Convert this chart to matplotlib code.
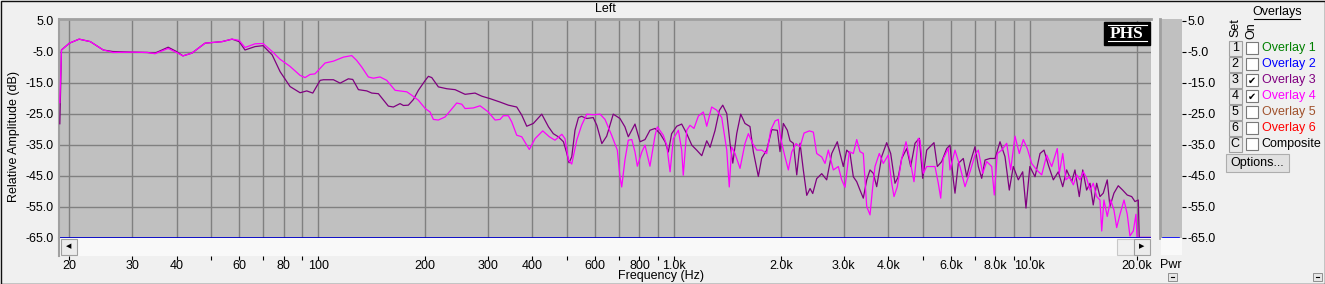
import matplotlib
matplotlib.use("Agg")
import matplotlib.pyplot as plt
import matplotlib.patches as ptc
from matplotlib.ticker import NullLocator

plt.rcParams['font.family'] = ['Liberation Sans', 'DejaVu Sans']
plt.rcParams['font.size'] = 9

# ---- data ----
# Overlay 3 (purple)
ov3_freq = [18.8, 19.0, 20, 21.3, 22.9, 24.9, 26.5, 30, 33.1, 34.8,
            37.9, 40, 41.7, 44.2, 48.1, 51.3, 53.7, 57.3, 60, 62.3,
            66.5, 70, 74.3, 78.2, 83.4, 89.0, 92.9, 96.6, 101.3, 103.5,
            110.4, 115.3, 121.6, 125.1, 129.8, 137.0, 141.5, 147.7, 157.5, 162.7,
            169.9, 173.6, 179.3, 185.2, 191.3, 200, 204.1, 208.6, 217.7, 229.9,
            242.6, 258.8, 276.0, 288.3, 304.2, 324.5, 342.4, 361.5, 373.4, 385.7,
            402.5, 425, 444, 458, 473, 489, 500, 507, 516, 527,
            539, 550, 569, 593, 607, 627, 647, 675, 705, 728,
            744, 761, 777, 803, 829, 856, 885, 914, 944, 964,
            985, 1018, 1051, 1086, 1122, 1158, 1197, 1236, 1263, 1304,
            1341, 1371, 1407, 1437, 1463, 1501, 1540, 1583, 1635, 1671,
            1726, 1764, 1822, 1883, 1952, 1986, 2029, 2082, 2119, 2165,
            2213, 2261, 2309, 2361, 2412, 2454, 2518, 2601, 2686, 2775,
            2877, 2928, 2991, 3058, 3124, 3191, 3262, 3332, 3404, 3480,
            3555, 3632, 3712, 3834, 3960, 4064, 4179, 4269, 4364, 4508,
            4626, 4757, 4891, 5000, 5130, 5241, 5378, 5495, 5653, 5839,
            5965, 6094, 6161, 6295, 6501, 6646, 6789, 7012, 7164, 7323,
            7482, 7726, 7985, 8244, 8514, 8754, 8984, 9280, 9548, 9753,
            10000, 10340, 10680, 10960, 11270, 11640, 12020, 12370, 12690, 13110,
            13390, 13770, 14080, 14440, 14760, 15070, 15410, 15740, 16080, 16500,
            16790, 17230, 17720, 18230, 18780, 19330, 19740, 20170, 20300, 21900]
ov3_db = [-28.3, -4.5, -2.3, -1.0, -1.8, -4.5, -5.0, -5.2, -5.3, -5.5,
          -3.6, -5.0, -6.4, -5.5, -2.3, -2.0, -1.8, -1.0, -1.8, -4.5,
          -3.4, -3.1, -6.1, -11.5, -16.3, -18.3, -17.7, -18.4, -14.3, -14.1,
          -14.1, -15.2, -13.8, -14.0, -17.3, -17.7, -18.4, -18.6, -22.6, -22.9,
          -21.8, -22.4, -22.3, -20.5, -17.5, -14.3, -13.0, -13.4, -16.4, -17.0,
          -17.3, -18.8, -18.4, -19.4, -20.2, -21.3, -22.3, -22.9, -25.5, -29.1,
          -28.2, -25.2, -29.3, -31.5, -32.5, -34.1, -37.9, -40.9, -39.0, -30.4,
          -26.3, -25.9, -26.6, -26.3, -28.8, -34.7, -32.3, -25.2, -26.6, -29.3,
          -32.5, -30.4, -28.4, -34.1, -33.4, -30.4, -29.8, -31.5, -34.1, -37.4,
          -31.5, -29.1, -28.4, -31.5, -35.2, -36.8, -38.6, -33.8, -35.9, -30.5,
          -24.0, -22.3, -25.0, -34.6, -41.0, -31.4, -25.2, -28.2, -29.2, -37.3,
          -45.3, -39.4, -36.8, -30.2, -30.4, -37.3, -28.2, -30.4, -33.8, -34.6,
          -44.8, -34.6, -43.2, -51.4, -49.2, -50.8, -46.0, -44.4, -46.4, -37.9,
          -34.1, -37.9, -42.1, -36.8, -37.9, -45.4, -47.0, -49.7, -52.3, -46.4,
          -43.2, -44.3, -48.6, -38.9, -34.4, -37.9, -47.5, -45.4, -39.5, -36.3,
          -42.1, -34.6, -33.0, -45.9, -36.8, -35.7, -34.4, -42.1, -40.5, -36.3,
          -35.2, -46.4, -50.7, -41.1, -39.5, -45.4, -41.1, -35.7, -42.1, -45.9,
          -40.0, -39.5, -39.5, -34.1, -38.9, -49.7, -42.1, -46.4, -43.8, -55.5,
          -42.1, -45.4, -37.9, -36.8, -41.6, -46.4, -43.8, -48.6, -43.2, -47.0,
          -43.2, -51.8, -43.2, -49.7, -47.5, -54.5, -47.5, -51.8, -50.7, -46.4,
          -55.0, -50.7, -48.3, -49.7, -51.3, -51.8, -53.4, -52.9, -65, -65]

# Overlay 4 (magenta)
ov4_freq = [18.8, 19.0, 20, 21.3, 22.9, 24.9, 26.5, 30, 33.1, 34.8,
            37.9, 40, 41.7, 44.2, 48.1, 51.3, 53.7, 57.3, 60, 62.3,
            66.5, 70, 74.3, 78.2, 83.4, 89.0, 91.9, 94.9, 98.0, 104.6,
            110.4, 117.8, 124.3, 128.4, 132.6, 138.4, 143.0, 149.3, 155.9, 164.5,
            177.5, 183.3, 191.3, 200, 206.3, 210.8, 217.7, 227.4, 245.2, 253.3,
            258.8, 273.0, 285.1, 300.8, 314.2, 324.5, 331.5, 342.4, 350.0, 361.5,
            373.4, 392.2, 407.0, 427.7, 446.4, 463, 484, 494, 505, 516,
            533, 550, 569, 593, 620, 640, 668, 693, 705, 713,
            728, 744, 761, 777, 789, 812, 829, 856, 885, 898,
            933, 954, 975, 996, 1029, 1051, 1062, 1086, 1109, 1138,
            1171, 1209, 1236, 1276, 1318, 1362, 1407, 1430, 1453, 1484,
            1533, 1583, 1618, 1664, 1708, 1764, 1822, 1870, 1923, 1964,
            1995, 2051, 2096, 2142, 2203, 2261, 2320, 2401, 2464, 2518,
            2601, 2657, 2715, 2804, 2896, 2960, 3024, 3109, 3191, 3262,
            3332, 3404, 3480, 3555, 3618, 3672, 3775, 3874, 4000, 4091,
            4152, 4242, 4364, 4487, 4605, 4725, 4859, 4913, 5019, 5130,
            5300, 5413, 5530, 5617, 5712, 5900, 5965, 6161, 6364, 6573,
            6789, 7012, 7164, 7370, 7564, 7812, 7945, 8101, 8334, 8609,
            8834, 9084, 9340, 9585, 9835, 10120, 10450, 10800, 11150, 11520,
            11940, 12100, 12370, 12630, 12910, 13250, 13540, 13830, 14130, 14440,
            14760, 15070, 15410, 15740, 15920, 16150, 16500, 16870, 17230, 17540,
            17920, 18390, 18780, 19110, 19530, 19870, 20000, 21900]
ov4_db = [-21.5, -4.5, -2.3, -1.0, -1.8, -4.5, -5.3, -5.2, -5.3, -5.7,
          -4.0, -5.3, -6.4, -5.5, -2.3, -2.0, -1.8, -1.0, -1.4, -3.7,
          -2.5, -2.4, -5.0, -7.5, -9.8, -12.7, -13.4, -12.4, -12.2, -8.7,
          -8.1, -6.8, -6.3, -7.9, -10.0, -13.2, -13.6, -13.2, -14.3, -17.5,
          -18.0, -19.1, -20.7, -23.4, -24.5, -26.9, -27.1, -26.1, -21.6, -22.0,
          -23.4, -23.2, -22.5, -24.5, -27.1, -26.9, -25.7, -25.7, -27.7, -32.0,
          -32.5, -36.6, -33.1, -30.6, -32.5, -33.6, -31.7, -33.1, -40.0, -41.3,
          -33.6, -28.8, -25.2, -25.4, -25.2, -26.9, -32.0, -36.8, -45.4, -48.7,
          -40.0, -33.6, -33.4, -37.4, -42.0, -37.4, -35.2, -42.0, -32.0, -29.3,
          -32.0, -35.2, -43.8, -33.1, -30.4, -36.8, -44.9, -30.4, -28.8, -29.8,
          -25.8, -24.5, -29.1, -22.9, -23.9, -26.3, -36.8, -48.7, -35.8, -37.9,
          -42.7, -34.7, -31.5, -34.7, -36.8, -36.8, -37.9, -30.4, -27.4, -26.9,
          -33.1, -39.0, -43.2, -37.4, -34.7, -35.8, -31.3, -30.6, -31.0, -37.9,
          -39.0, -41.1, -36.8, -43.2, -42.1, -46.4, -48.8, -37.3, -37.9, -33.4,
          -37.3, -37.9, -55.0, -57.7, -48.6, -42.1, -37.9, -41.1, -38.4, -47.5,
          -51.8, -48.6, -39.5, -34.1, -40.0, -47.0, -33.0, -33.6, -44.3, -42.1,
          -42.1, -42.1, -47.5, -52.3, -39.5, -36.3, -43.2, -36.8, -42.1, -48.6,
          -43.8, -38.4, -36.8, -44.3, -40.5, -42.1, -51.3, -37.9, -36.8, -34.6,
          -43.2, -32.3, -37.9, -33.4, -36.3, -41.1, -43.2, -44.8, -38.4, -42.1,
          -36.3, -44.3, -37.9, -46.4, -45.4, -48.0, -44.8, -46.4, -43.8, -45.9,
          -49.7, -47.5, -51.8, -52.9, -62.9, -52.9, -58.2, -52.9, -56.1, -61.8,
          -57.5, -52.9, -57.5, -64.5, -62.9, -57.5, -65, -65]

y_ticks = [5, -5, -15, -25, -35, -45, -55, -65]
grid_freqs = [20, 30, 40, 50, 60, 70, 80, 90, 100, 200, 300, 400, 500, 600, 700, 800, 900,
              1000, 2000, 3000, 4000, 5000, 6000, 7000, 8000, 9000, 10000, 20000]
freq_labels = ['20', '30', '40', '', '60', '', '80', '', '100', '200', '300', '400', '', '600', '',
               '800', '', '1.0k', '2.0k', '3.0k', '4.0k', '', '6.0k', '', '8.0k', '', '10.0k', '20.0k']
overlay_names = ['Overlay 1', 'Overlay 2', 'Overlay 3', 'Overlay 4', 'Overlay 5', 'Overlay 6', 'Composite']
overlay_keys = ['1', '2', '3', '4', '5', '6', 'C']
overlay_colors = ['#008000', '#0000ff', '#800080', '#ff00ff', '#a0522d', '#ff0000', '#000000']
overlay_on = [False, False, True, True, False, False, False]

W, H = 1325, 284
fig = plt.figure(figsize=(W / 100, H / 100), dpi=100, facecolor='#f0f0f0')


def rect(x0, y0, x1, y1):
    # pixel box (top-left origin) -> figure fraction
    return [x0 / W, 1 - y1 / H, (x1 - x0) / W, (y1 - y0) / H]


y_labels = ['%.1f' % v for v in y_ticks]
xlim = (18.7, 21900)
ylim = (-65, 5.5)

# main plot
ax = fig.add_axes(rect(59, 19, 1151, 237.5))
ax.set_facecolor('#c0c0c0')
ax.set_xscale('log')
ax.set_xlim(*xlim)
ax.set_ylim(*ylim)
for f in grid_freqs:
    ax.axvline(f, color='#808080', lw=1.0, zorder=1)
for v in y_ticks[1:-1]:
    ax.axhline(v, color='#808080', lw=1.0, zorder=1)
ax.plot(ov3_freq, ov3_db, color='#800080', lw=0.9, zorder=3)
ax.plot(ov4_freq, ov4_db, color='#ff00ff', lw=0.9, zorder=4)
ax.axhline(-65, color='#0000c8', lw=1.3, zorder=5)
ax.set_xticks([])
ax.xaxis.set_minor_locator(NullLocator())
ax.set_yticks(y_ticks)
ax.set_yticklabels(y_labels)
ax.tick_params(axis='y', length=0, pad=4)
for s in ['right', 'bottom']:
    ax.spines[s].set_visible(False)
ax.spines['top'].set_color('#a0a0a0')
ax.spines['top'].set_linewidth(2)
ax.spines['left'].set_color('#a0a0a0')
ax.spines['left'].set_linewidth(1.5)

# scrollbar strip with the frequency axis
sb = fig.add_axes(rect(59, 237.5, 1151, 255.5))
sb.set_facecolor('#f9f9f9')
sb.set_xscale('log')
sb.set_xlim(*xlim)
sb.set_yticks([])
sb.xaxis.set_minor_locator(NullLocator())
sb.set_xticks(grid_freqs)
sb.set_xticklabels(freq_labels)
sb.tick_params(axis='x', length=3, width=0.8, pad=0.5, color='black')
for s in ['right', 'top', 'bottom']:
    sb.spines[s].set_visible(False)
sb.spines['left'].set_color('#a0a0a0')
sb.spines['left'].set_linewidth(1.5)

# power bar
pw = fig.add_axes(rect(1159.5, 19, 1181.5, 237.5))
pw.set_facecolor('#c0c0c0')
pw.set_ylim(*ylim)
pw.set_xticks([])
pw.axhline(-65, xmin=0.15, xmax=0.9, color='#0000ff', lw=1.2)
pw.yaxis.tick_right()
pw.set_yticks(y_ticks)
pw.set_yticklabels(y_labels)
pw.tick_params(axis='y', length=3, width=0.8, pad=1.5, color='black')
for s in ['right', 'top', 'bottom']:
    pw.spines[s].set_visible(False)
pw.spines['left'].set_color('#a0a0a0')
pw.spines['left'].set_linewidth(2)

# UI chrome in pixel coordinates
ui = fig.add_axes([0, 0, 1, 1])
ui.set_xlim(0, W)
ui.set_ylim(H, 0)
ui.axis('off')
ui.patch.set_alpha(0)

ui.add_patch(ptc.Rectangle((0.5, 0.5), W - 1, H - 1, fill=False, ec='#101010', lw=1))
ui.text(605, 9, 'Left', ha='center', va='center')
ui.text(14, 137, 'Relative Amplitude (dB)', rotation=90, ha='center', va='center')
ui.text(661, 276, 'Frequency (Hz)', ha='center', va='center')

# scroll buttons
ui.add_patch(ptc.Rectangle((60.5, 238.5), 16, 16, fc='#ececec', ec='#a0a0a0', lw=0.8))
ui.text(68.5, 246.5, '\u25C0', ha='center', va='center', fontsize=5, family='DejaVu Sans')
ui.add_patch(ptc.Rectangle((1117, 238.5), 16.5, 16, fc='#f0f0f0', ec='#c8c8c8', lw=0.8))
ui.add_patch(ptc.Rectangle((1133.5, 238.5), 16.5, 16, fc='#ececec', ec='#a0a0a0', lw=0.8))
ui.text(1141.8, 246.5, '\u25B6', ha='center', va='center', fontsize=5, family='DejaVu Sans')

# PHS logo
ui.add_patch(ptc.Rectangle((1104, 21.5), 46, 23, fc='black', ec='black', zorder=5))
ui.text(1127, 33.5, 'PHS', ha='center', va='center', color='white', fontsize=12.5,
        family='Liberation Serif', weight='bold', zorder=6)
ui.plot([1107.5, 1146.5], [25.2, 25.2], color='white', lw=0.8, zorder=6)
ui.plot([1107.5, 1146.5], [40.5, 40.5], color='white', lw=0.8, zorder=6)

# below power bar
ui.add_patch(ptc.Rectangle((1160.5, 238), 21, 16.5, fc='#f9f9f9', ec='none'))
ui.text(1171, 265, 'Pwr', ha='center', va='center')
for bx in [1167.5, 1313]:
    ui.add_patch(ptc.Rectangle((bx, 272.5), 9, 8, fc='#e6e6e6', ec='#909090', lw=0.7))
    ui.plot([bx + 3, bx + 6], [276.5, 276.5], color='black', lw=0.8)

# overlays panel
ui.text(1277, 12.5, 'Overlays', ha='center', va='center')
ui.plot([1254, 1300], [19, 19], color='black', lw=0.8)
ui.text(1235, 28, 'Set', rotation=90, ha='center', va='center')
ui.text(1251, 31, 'On', rotation=90, ha='center', va='center')
for i, (key, name, col, on) in enumerate(zip(overlay_keys, overlay_names, overlay_colors, overlay_on)):
    cy = 48.3 + 16 * i
    ui.add_patch(ptc.Rectangle((1228.5, cy - 7.5), 13.5, 15, fc='#e8e8e8', ec='#a0a0a0', lw=0.8))
    ui.text(1235.2, cy, key, ha='center', va='center')
    ui.add_patch(ptc.Rectangle((1246, cy - 6), 12, 12, fc='white', ec='#7a7a7a', lw=0.8))
    if on:
        ui.text(1252, cy + 0.5, '\u2714', ha='center', va='center', fontsize=7, family='DejaVu Sans')
    ui.text(1261.5, cy, name, ha='left', va='center', color=col)

ui.add_patch(ptc.Rectangle((1225.5, 154), 63, 18, fc='#e1e1e1', ec='#adadad', lw=0.8))
ui.text(1257, 163, 'Options...', ha='center', va='center')

fig.savefig('out.png', dpi=100, facecolor=fig.get_facecolor())
